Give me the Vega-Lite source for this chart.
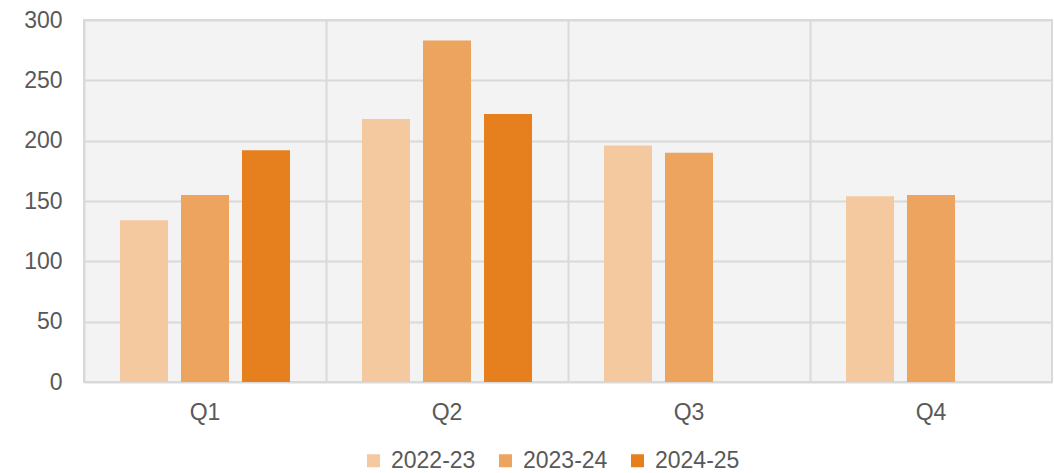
{
  "$schema": "https://vega.github.io/schema/vega-lite/v6.json",
  "width": 968,
  "height": 362,
  "autosize": {"type": "none"},
  "padding": {"left": 84, "top": 20, "right": 2, "bottom": 91},
  "background": "white",
  "config": {
    "font": "Liberation Sans",
    "view": {"stroke": "#d9d9d9", "strokeWidth": 2, "fill": "#f3f3f3"},
    "axis": {"labelFont": "Liberation Sans", "labelColor": "#595959", "labelFontSize": 23, "gridColor": "#d9d9d9", "gridWidth": 2}
  },
  "data": {
    "values": [
      {"quarter": "Q1", "year": "2022-23", "value": 134},
      {"quarter": "Q1", "year": "2023-24", "value": 155},
      {"quarter": "Q1", "year": "2024-25", "value": 192},
      {"quarter": "Q2", "year": "2022-23", "value": 218},
      {"quarter": "Q2", "year": "2023-24", "value": 283},
      {"quarter": "Q2", "year": "2024-25", "value": 222},
      {"quarter": "Q3", "year": "2022-23", "value": 196},
      {"quarter": "Q3", "year": "2023-24", "value": 190},
      {"quarter": "Q4", "year": "2022-23", "value": 154},
      {"quarter": "Q4", "year": "2023-24", "value": 155}
    ]
  },
  "mark": {"type": "bar"},
  "encoding": {
    "x": {
      "field": "quarter", "type": "nominal",
      "scale": {"paddingInner": 0, "paddingOuter": 0},
      "axis": {"title": null, "labelAngle": 0, "bandPosition": 0, "labelOffset": 0, "ticks": false, "domain": false, "grid": true, "labelPadding": 19}
    },
    "xOffset": {
      "field": "year", "type": "nominal",
      "scale": {"domain": ["2022-23", "2023-24", "2024-25"], "paddingInner": 0.213, "paddingOuter": 0.59}
    },
    "y": {
      "field": "value", "type": "quantitative",
      "scale": {"domain": [0, 300], "nice": false},
      "axis": {"title": null, "values": [0, 50, 100, 150, 200, 250, 300], "ticks": false, "domain": false, "labelPadding": 22}
    },
    "color": {
      "field": "year", "type": "nominal",
      "scale": {"domain": ["2022-23", "2023-24", "2024-25"], "range": ["#f5c9a0", "#eca45f", "#e6801e"]},
      "legend": {"title": null, "orient": "none", "legendX": 278, "legendY": 429, "direction": "horizontal", "symbolType": "square", "symbolSize": 169, "symbolStrokeWidth": 0, "labelFontSize": 23, "labelColor": "#595959", "labelFont": "Liberation Sans", "columnPadding": 18, "labelOffset": 6}
    }
  }
}
